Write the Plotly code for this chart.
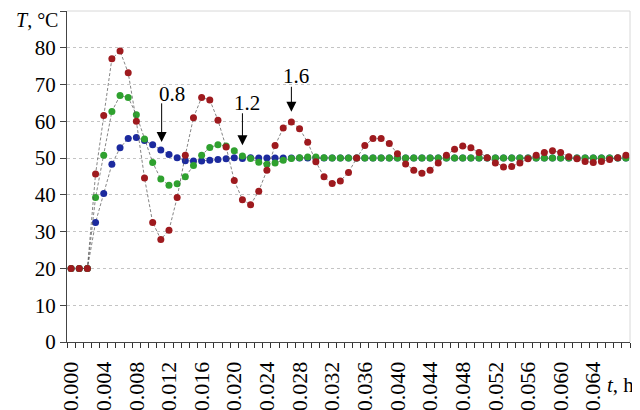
import plotly.graph_objects as go

# time, h (one point every 0.001 h)
t_ms = list(range(0, 69))
t_h = [v / 1000 for v in t_ms]

# Series (T, °C)
T_08 = [20, 20, 20, 32.5, 40.4, 48.3, 52.8, 55.3, 55.6, 54.8,
        53.6, 52.2, 51.0, 50.1, 49.3, 49.2, 49.2, 49.4, 49.6, 49.8,
        50.1, 49.9, 50.1] + [50] * 46

T_12 = [20, 20, 20, 39.3, 50.8, 62.7, 67.0, 66.5, 61.8, 55.2,
        48.8, 44.3, 42.6, 43.0, 44.9, 48.0, 50.8, 52.9, 53.6, 53.3,
        52.0, 50.6, 49.9, 48.9, 48.3, 48.7, 49.4, 49.9, 50.1, 50.3,
        50.3, 50.1] + [50] * 37

T_16 = [20, 20, 20, 45.7, 61.6, 77.0, 79.1, 73.2, 60.0, 44.6,
        32.5, 27.9, 30.4, 39.3, 50.8, 61.0, 66.5, 65.8, 60.3, 53.0,
        43.9, 38.7, 37.3, 41.0, 46.7, 53.4, 58.2, 59.8, 58.0, 54.3,
        49.0, 44.9, 43.1, 43.8, 46.1, 50.0, 53.4, 55.3, 55.3, 54.0,
        51.2, 48.4, 46.7, 45.9, 46.7, 48.7, 50.8, 52.4, 53.3, 52.8,
        51.5, 50.1, 48.7, 47.6, 47.7, 48.7, 49.8, 50.8, 51.5, 52.0,
        51.5, 50.4, 49.8, 49.1, 48.8, 49.1, 49.6, 50.1, 50.8]

series_names = ["0.8", "1.2", "1.6"]
series_vals = [T_08, T_12, T_16]
series_colors = ["#1c2a9e", "#2fa12f", "#9e1a1e"]

# x tick labels every 0.004 h
x_tickvals = [k / 1000 for k in range(0, 65, 4)]
x_ticktext = ["%.3f" % v for v in x_tickvals]
y_tickvals = list(range(0, 100, 10))
y_ticktext = [str(v) for v in range(0, 90, 10)] + [""]

# annotation labels: (text, arrow x, arrow tip y, arrow tail y, text x, text y)
ann_labels = ["0.8", "1.2", "1.6"]
ann_arrow_x = [0.0111, 0.0210, 0.0270]
ann_tip_y = [54.4, 53.5, 62.6]
ann_tail_y = [65.3, 62.6, 69.8]
ann_text_x = [0.0124, 0.0215, 0.0276]
ann_text_y = [67.4, 65.1, 72.4]

FONT = "Liberation Serif"

fig = go.Figure()
for name, vals, col in zip(series_names, series_vals, series_colors):
    fig.add_trace(go.Scatter(
        x=t_h, y=vals, name=name, mode="lines+markers",
        line=dict(color="#505050", width=0.7, dash="3px,2px"),
        marker=dict(color=col, size=7),
        showlegend=False,
    ))

annotations = []
for lab, ax_, tip, tail, tx, ty in zip(ann_labels, ann_arrow_x, ann_tip_y,
                                       ann_tail_y, ann_text_x, ann_text_y):
    annotations.append(dict(
        x=ax_, y=tip, xref="x", yref="y", ax=ax_, ay=tail,
        axref="x", ayref="y", text="", showarrow=True,
        arrowhead=2, arrowsize=2, arrowwidth=1, arrowcolor="black",
        standoff=0, startstandoff=0,
    ))
    annotations.append(dict(
        x=tx, y=ty, xref="x", yref="y", text=lab, showarrow=False,
        font=dict(family=FONT, size=21, color="black"),
        xanchor="center", yanchor="middle",
    ))

annotations.append(dict(
    x=-0.053, y=1.009, xref="paper", yref="paper", text="<i>T</i>, °C",
    showarrow=False, font=dict(family=FONT, size=20, color="black"),
    xanchor="center", yanchor="top", borderpad=0,
))
annotations.append(dict(
    x=0.955, y=-0.13, xref="paper", yref="paper", text="<i>t</i>, h",
    showarrow=False, font=dict(family=FONT, size=21, color="black"),
    xanchor="left", yanchor="middle",
))

# the page body adds an 8 px offset, so the figure is 632x402
fig.update_layout(
    width=632, height=402,
    margin=dict(l=59, r=10, t=3, b=68),
    paper_bgcolor="white", plot_bgcolor="white",
    annotations=annotations,
    shapes=[
        dict(type="line", xref="paper", yref="paper", x0=0, x1=1, y0=1, y1=1,
             line=dict(color="#d8d8d8", width=1)),
        dict(type="line", xref="paper", yref="paper", x0=1, x1=1, y0=0, y1=1,
             line=dict(color="#d8d8d8", width=1)),
    ],
)
fig.update_xaxes(
    range=[-0.0005, 0.0685], automargin=False,
    tickvals=x_tickvals, ticktext=x_ticktext, tickangle=-90,
    ticks="outside", ticklen=10, tickcolor="rgba(0,0,0,0)",
    minor=dict(ticks="outside", tick0=-0.0005, dtick=0.001, ticklen=5,
               tickcolor="#333", showgrid=False),
    showgrid=False, zeroline=False,
    showline=True, linecolor="#444", linewidth=1,
    tickfont=dict(family=FONT, size=22, color="black"),
)
fig.update_yaxes(
    range=[0, 90], automargin=False,
    tickvals=y_tickvals, ticktext=y_ticktext,
    ticks="outside", ticklen=6, tickcolor="#444",
    showgrid=True, gridcolor="#c4c4c4", griddash="dot", gridwidth=1,
    zeroline=False,
    showline=True, linecolor="#444", linewidth=1,
    tickfont=dict(family=FONT, size=21, color="black"),
)

fig.write_html("out.html")
